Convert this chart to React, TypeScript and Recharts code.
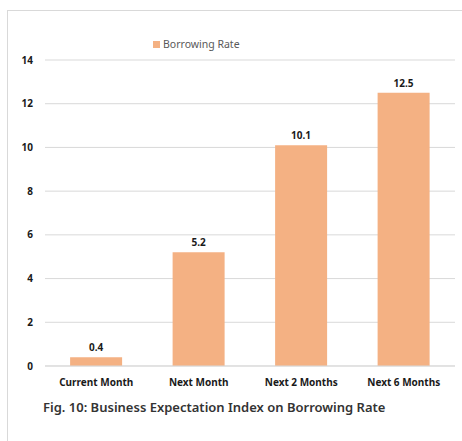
import React from "react";
import { BarChart, Bar, XAxis, YAxis, CartesianGrid, LabelList } from "recharts";

const categories = ["Current Month", "Next Month", "Next 2 Months", "Next 6 Months"];
const borrowingRate = [0.4, 5.2, 10.1, 12.5];
const yTicks = [0, 2, 4, 6, 8, 10, 12, 14];

const data = categories.map((name, i) => ({ name, rate: borrowingRate[i] }));

const FONT = "'Noto Sans', sans-serif";
const BAR = "#F4B183";
const tickStyle = { fill: "#1a1a1a", fontSize: 10, fontWeight: 700, fontFamily: FONT };

export default function App() {
  return (
    <div
      style={{
        position: "absolute",
        left: 0,
        top: 0,
        width: 462,
        height: 441,
        background: "#fff",
        overflow: "hidden",
      }}
    >
      <div
        style={{
          position: "absolute",
          left: 7,
          top: 10,
          width: 470,
          height: 450,
          border: "1px solid #d9d9d9",
        }}
      />
      <div style={{ position: "absolute", left: 0, top: 0 }}>
        <BarChart
          width={462}
          height={400}
          data={data}
          margin={{ top: 60, right: 7, left: 0, bottom: 10 }}
          barCategoryGap="24.5%"
        >
          <CartesianGrid vertical={false} stroke="#d9d9d9" />
          <XAxis
            dataKey="name"
            height={24}
            tickLine={false}
            axisLine={{ stroke: "#d9d9d9" }}
            tickMargin={7}
            interval={0}
            tick={tickStyle}
          />
          <YAxis
            width={45}
            domain={[0, 14]}
            ticks={yTicks}
            tickLine={false}
            axisLine={false}
            tickMargin={6}
            tick={tickStyle}
          />
          <Bar dataKey="rate" fill={BAR} isAnimationActive={false}>
            <LabelList dataKey="rate" position="top" offset={6} style={tickStyle} />
          </Bar>
        </BarChart>
      </div>
      <div
        style={{
          position: "absolute",
          left: 153,
          top: 37,
          display: "flex",
          alignItems: "center",
          fontFamily: FONT,
          fontSize: 10.5,
          color: "#595959",
        }}
      >
        <span style={{ width: 7, height: 7, background: BAR, display: "inline-block", marginRight: 3 }} />
        Borrowing Rate
      </div>
      <div
        style={{
          position: "absolute",
          left: 43,
          top: 398,
          fontFamily: FONT,
          fontSize: 13,
          fontWeight: 600,
          color: "#333",
          whiteSpace: "nowrap",
        }}
      >
        Fig. 10: Business Expectation Index on Borrowing Rate
      </div>
    </div>
  );
}
